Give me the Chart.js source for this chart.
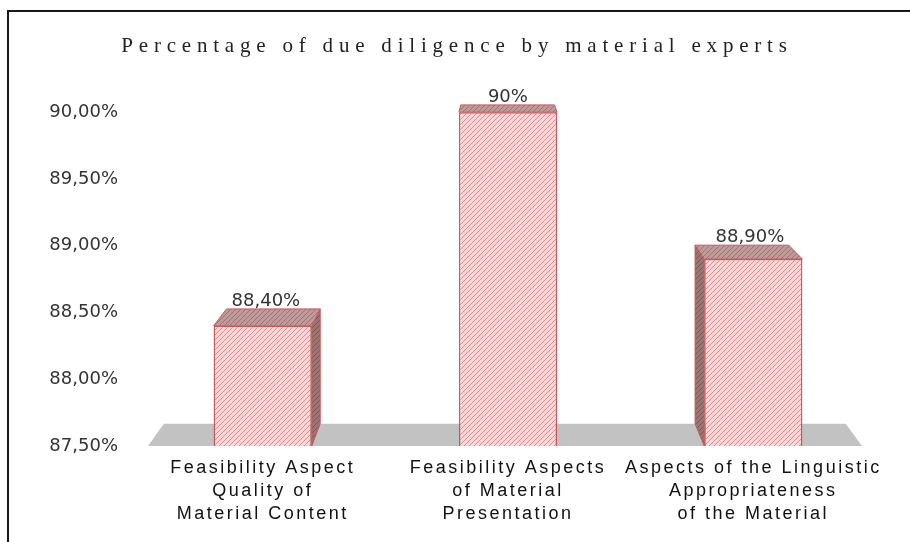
<!DOCTYPE html>
<html>
<head>
<meta charset="utf-8">
<script src="https://cdn.jsdelivr.net/npm/chart.js@4/dist/chart.umd.min.js"></script>
<style>
  html, body { margin: 0; padding: 0; background: #ffffff; }
  canvas { display: block; }
</style>
</head>
<body>
<canvas id="c" width="910" height="542"></canvas>
<script>
// ---- data ----
const titleText = 'Percentage of due diligence by material experts';
const categories = [
  ['Feasibility Aspect', 'Quality of', 'Material Content'],
  ['Feasibility Aspects', 'of Material', 'Presentation'],
  ['Aspects of the Linguistic', 'Appropriateness', 'of the Material']
];
const values = [88.4, 90, 88.9];
const valueLabels = ['88,40%', '90%', '88,90%'];
const yMin = 87.5;
const yMax = 90;
const yStep = 0.5;

// ---- styles ----
const canvas = document.getElementById('c');
const ctx0 = canvas.getContext('2d');
function makeHatch(bg, line) {
  const s = 5;
  const c = document.createElement('canvas');
  c.width = s; c.height = s;
  const g = c.getContext('2d');
  g.fillStyle = bg;
  g.fillRect(0, 0, s, s);
  g.strokeStyle = line;
  g.lineWidth = 1;
  g.beginPath();
  g.moveTo(0, s); g.lineTo(s, 0);
  g.moveTo(-s, s); g.lineTo(s, -s);
  g.moveTo(0, 2 * s); g.lineTo(2 * s, 0);
  g.stroke();
  return ctx0.createPattern(c, 'repeat');
}
const frontFill = makeHatch('#fad6d6', '#df8c8e');
const topFill = makeHatch('#bf9a9a', '#a07272');
const sideFill = makeHatch('#9c7474', '#7e5656');
const edgeColor = '#c65a5a';
const floorColor = '#c2c2c2';
const sansFont = '"DejaVu Sans", Verdana, sans-serif';

const VPX = 500, VPY = -50, F = 0.045;
function back(x, y) { return [x + F * (VPX - x), y + F * (VPY - y)]; }

function poly(ctx, pts, fill, stroke) {
  ctx.beginPath();
  ctx.moveTo(pts[0][0], pts[0][1]);
  for (let i = 1; i < pts.length; i++) ctx.lineTo(pts[i][0], pts[i][1]);
  ctx.closePath();
  if (fill) { ctx.fillStyle = fill; ctx.fill(); }
  if (stroke) { ctx.strokeStyle = stroke; ctx.lineWidth = 1; ctx.stroke(); }
}

const letterSpacingPlugin = {
  id: 'letterSpacing',
  afterUpdate(chart) {
    const wrap = (obj, method, sp, centerOnCanvas) => {
      if (!obj || obj['__w_' + method]) return;
      const orig = obj[method];
      obj[method] = function (...args) {
        const c = chart.ctx;
        c.save();
        c.letterSpacing = sp;
        if (centerOnCanvas) {
          c.translate(chart.width / 2 - (this.left + this.right) / 2 + 2, 0);
        }
        orig.apply(this, args);
        c.restore();
      };
      obj['__w_' + method] = true;
    };
    wrap(chart.titleBlock, 'draw', '5.8px', true);
    wrap(chart.scales.x, 'drawLabels', '2.5px', false);
  }
};

const threeD = {
  id: 'threeD',
  beforeDatasetsDraw(chart) {
    const ctx = chart.ctx;
    const area = chart.chartArea;
    const fy = chart.scales.y.getPixelForValue(yMin);
    // floor
    const fl = area.left + 8, fr = area.right - 14;
    poly(ctx, [[fl, fy], back(fl, fy), back(fr, fy), [fr, fy]], floorColor, null);
    // bar depth faces
    const meta = chart.getDatasetMeta(0);
    meta.data.forEach((bar) => {
      const p = bar.getProps(['x', 'y', 'width'], true);
      const l = p.x - p.width / 2, r = p.x + p.width / 2, t = p.y, b = fy;
      const rb = back(r, t), rbb = back(r, b);
      if (rb[0] > r + 0.5) poly(ctx, [[r, t], rb, rbb, [r, b]], sideFill, edgeColor);
      const lb = back(l, t), lbb = back(l, b);
      if (lb[0] < l - 0.5) poly(ctx, [[l, t], lb, lbb, [l, b]], sideFill, edgeColor);
      poly(ctx, [[l, t], back(l, t), back(r, t), [r, t]], topFill, edgeColor);
    });
  },
  afterDatasetsDraw(chart) {
    const ctx = chart.ctx;
    const meta = chart.getDatasetMeta(0);
    ctx.save();
    ctx.font = '18px ' + sansFont;
    ctx.fillStyle = '#333333';
    ctx.textAlign = 'center';
    ctx.textBaseline = 'bottom';
    meta.data.forEach((bar, i) => {
      const p = bar.getProps(['x', 'y'], true);
      const bk = back(p.x, p.y);
      const cx = p.x + (bk[0] - p.x) * 0.3;
      ctx.fillText(valueLabels[i], cx, bk[1] + 1);
    });
    ctx.restore();
  },
  afterDraw(chart) {
    const ctx = chart.ctx;
    ctx.save();
    ctx.fillStyle = '#1a1a1a';
    ctx.fillRect(7, 10, 903, 2);
    ctx.fillRect(7, 10, 2, 532);
    ctx.restore();
  }
};

new Chart(canvas, {
  type: 'bar',
  data: {
    labels: categories,
    datasets: [{
      data: values,
      base: yMin,
      backgroundColor: frontFill,
      borderColor: edgeColor,
      borderWidth: 1.5,
      categoryPercentage: 1,
      barPercentage: 0.4
    }]
  },
  options: {
    responsive: false,
    animation: false,
    devicePixelRatio: 1,
    layout: { padding: { left: 0, right: 34, top: 0, bottom: 0 } },
    plugins: {
      legend: { display: false },
      tooltip: { enabled: false },
      title: {
        display: true,
        text: titleText,
        color: '#222222',
        font: { family: '"Liberation Serif", "Times New Roman", serif', size: 21, weight: 'normal' },
        padding: { top: 34, bottom: 53 }
      }
    },
    scales: {
      x: {
        grid: { display: false },
        border: { display: false },
        ticks: {
          color: '#111111',
          autoSkip: false,
          maxRotation: 0,
          minRotation: 0,
          padding: 2,
          font: { family: '"Liberation Sans", Arial, sans-serif', size: 18, lineHeight: 1.3 }
        },
        afterFit(scale) { scale.height = 96; }
      },
      y: {
        min: yMin,
        max: yMax,
        grid: { display: false },
        border: { display: false },
        ticks: {
          stepSize: yStep,
          color: '#333333',
          padding: 14,
          font: { family: sansFont, size: 18 },
          callback: (v) => v.toFixed(2).replace('.', ',') + '%'
        },
        afterFit(scale) { scale.width = 140; }
      }
    }
  },
  plugins: [letterSpacingPlugin, threeD]
});
</script>
</body>
</html>
